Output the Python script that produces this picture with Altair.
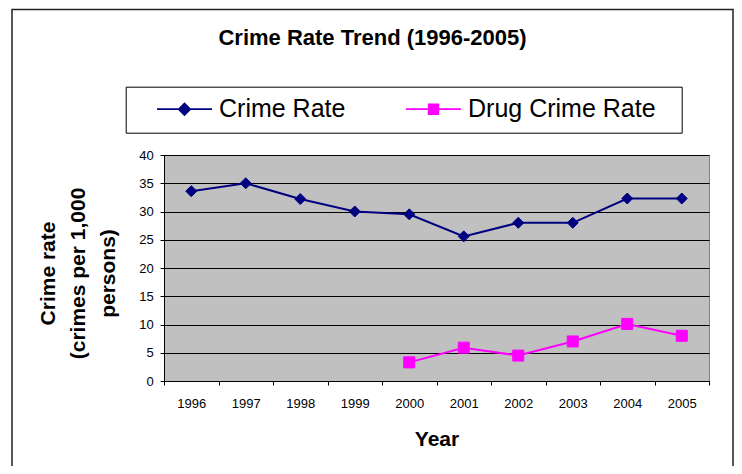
import altair as alt
import pandas as pd

FONT = "Liberation Sans, Arial, Helvetica, sans-serif"

years = ["1996", "1997", "1998", "1999", "2000", "2001", "2002", "2003", "2004", "2005"]
crime_rate = [33.6, 35.0, 32.2, 30.0, 29.5, 25.6, 28.0, 28.0, 32.3, 32.3]
drug_years = ["2000", "2001", "2002", "2003", "2004", "2005"]
drug_rate = [3.3, 5.9, 4.5, 7.0, 10.1, 8.0]

crime_name = "Crime Rate"
drug_name = "Drug Crime Rate"
crime_color = "#000080"
drug_color = "#FF00FF"
y_ticks = [0, 5, 10, 15, 20, 25, 30, 35, 40]

crime_df = pd.DataFrame({"Year": years, "Rate": crime_rate, "Series": crime_name})
drug_df = pd.DataFrame({"Year": drug_years, "Rate": drug_rate, "Series": drug_name})

# legend symbols (filled shapes only): a thin bar with the marker in its middle, units of 11px
p_crime = "M0,-0.08H5V0.08H0ZM2.5,-0.636L3.136,0L2.5,0.636L1.864,0ZM46.51,0"
p_drug = "M0,-0.08H5V0.08H0ZM1.98,-0.52H3.02V0.52H1.98Z"


def make_legend(path, color, x, y, boxed, z, sym_off, lab_off):
    return alt.Legend(
        title=None,
        orient="none",
        legendX=x,
        legendY=y,
        direction="horizontal",
        labelFont=FONT,
        labelFontSize=25,
        labelColor="black",
        labelOffset=lab_off,
        labelLimit=400,
        strokeColor="black" if boxed else "transparent",
        fillColor="white" if boxed else "transparent",
        padding=10 if boxed else 0,
        symbolType=path,
        symbolSize=484,
        symbolOffset=sym_off,
        symbolStrokeWidth=1.5,
        symbolFillColor=color,
        symbolStrokeColor=color,
        symbolOpacity=1,
        zindex=z,
    )


x_enc = alt.X(
    "Year:O",
    bandPosition=0.5,
    scale=alt.Scale(type="band", paddingInner=0, paddingOuter=0, domain=years),
    axis=alt.Axis(
        title="Year",
        labelAngle=0,
        tickBand="extent",
        tickSize=4,
        labelPadding=22.7,
        labelBaseline="alphabetic",
        labelFontSize=13,
        titleFontSize=21,
        titleFontWeight="bold",
        titleY=64.5,
        titleBaseline="alphabetic",
        grid=False,
    ),
)
y_enc = alt.Y(
    "Rate:Q",
    scale=alt.Scale(domain=[0, 40], nice=False),
    axis=alt.Axis(
        values=y_ticks,
        title=["Crime rate", "(crimes per 1,000", "persons)"],
        titleFontSize=21,
        titleFontWeight="bold",
        titleLineHeight=30,
        titleX=-110,
        titleY=118,
        titleAlign="center",
        titleBaseline="alphabetic",
        tickSize=4,
        labelPadding=6.7,
        labelFontSize=13,
        grid=True,
    ),
)


def series_layer(df, name, color, shape, legend):
    op = alt.Opacity("Series:N", scale=alt.Scale(domain=[name], range=[1]), legend=legend)
    line = alt.Chart(df).mark_line(strokeWidth=2, color=color).encode(x=x_enc, y=y_enc, opacity=op)
    pts = alt.Chart(df).mark_point(
        filled=True, size=121, fill=color, stroke=color, strokeWidth=1, shape=shape
    ).encode(x=x_enc, y=y_enc, opacity=op)
    return alt.layer(line, pts)


crime_layer = series_layer(
    crime_df, crime_name, crime_color, "diamond",
    make_legend(p_crime, crime_color, -38.3, -68.3, True, 1, 8.8, 49.5),
)
drug_layer = series_layer(
    drug_df, drug_name, drug_color, "square",
    make_legend(p_drug, drug_color, 229.5, -58.3, False, 2, 0, 49.5),
)

border = alt.Chart(pd.DataFrame({"d": [0]})).mark_rect(
    fill="white", fillOpacity=0, stroke="#222222", strokeWidth=1.5
).encode(x=alt.value(-152), x2=alt.value(569), y=alt.value(-145.5), y2=alt.value(330))

chart = alt.layer(border, crime_layer, drug_layer).resolve_scale(
    opacity="independent"
).properties(
    width=545,
    height=226,
    padding={"left": 156, "top": 147, "right": 25, "bottom": 85},
    autosize=alt.AutoSizeParams(type="none"),
    background="white",
    title=alt.TitleParams(
        "Crime Rate Trend (1996-2005)",
        font=FONT,
        fontSize=22,
        fontWeight="bold",
        color="black",
        anchor="middle",
        frame="bounds",
        offset=0,
        baseline="alphabetic",
        dy=58.5,
    ),
).configure_view(
    fill="#C0C0C0", stroke="#808080", strokeWidth=1
).configure_axis(
    domainColor="black",
    tickColor="black",
    labelColor="black",
    titleColor="black",
    labelFont=FONT,
    titleFont=FONT,
    gridColor="black",
    gridOpacity=1,
    gridWidth=1,
    domainWidth=1,
)

chart.save("out.html", embed_options={"renderer": "svg", "actions": False})
